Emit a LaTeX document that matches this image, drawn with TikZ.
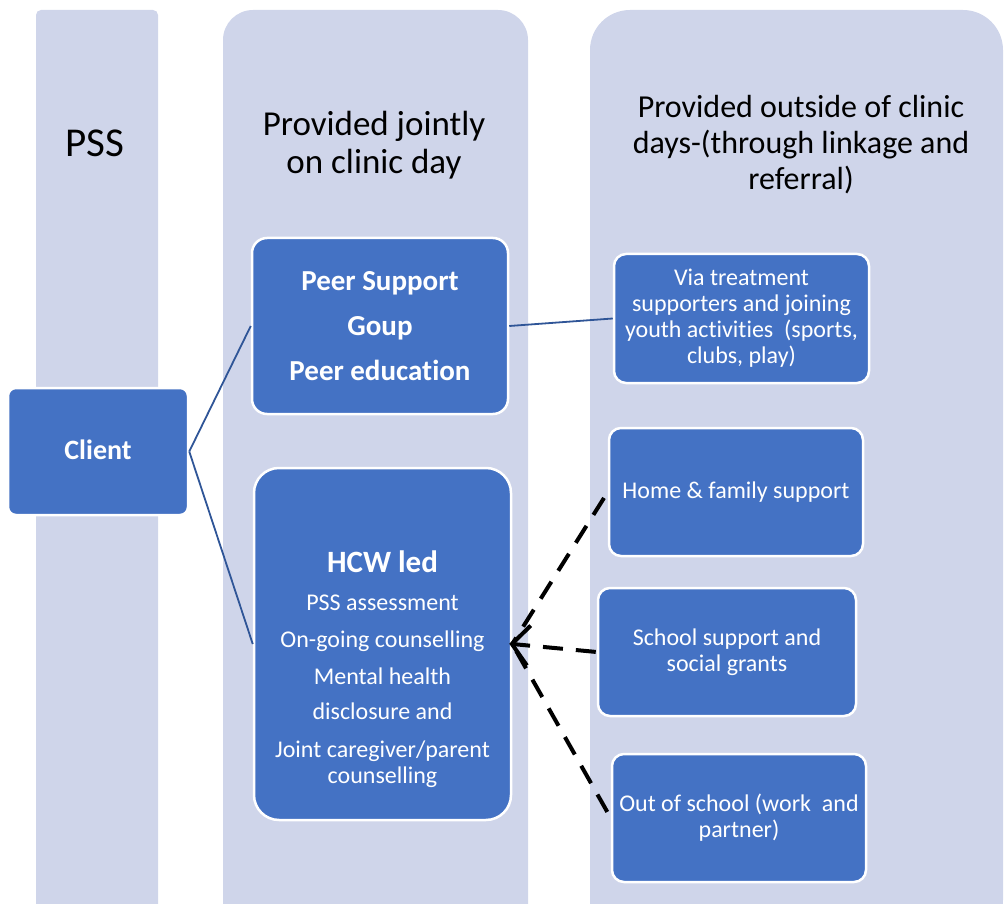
\documentclass[tikz,border=0pt]{standalone}
\usepackage{fontspec}
\setmainfont{Carlito}[Ligatures={NoCommon}]
\usetikzlibrary{arrows.meta}
\definecolor{colbg}{HTML}{CFD5EA}
\definecolor{boxblue}{HTML}{4472C4}
\definecolor{linkblue}{HTML}{2F5597}
\begin{document}
\begin{tikzpicture}[x=1pt,y=-1pt,
  colband/.style={fill=colbg},
  bluebox/.style={draw=white, line width=2.5pt, fill=boxblue, text=white, align=center, inner sep=0pt},
  smalltext/.style={font=\fontsize{24}{26}\selectfont},
  heading/.style={align=center, text=black, inner sep=0pt},
  link/.style={draw=linkblue, line width=1.8pt},
  dashline/.style={draw=black, line width=4pt, dash pattern=on 20pt off 13pt},
  barb/.style={-{Straight Barb[length=17pt,width=40pt,line width=4pt]}}
]
\useasboundingbox (0,0) rectangle (1005,904);
\clip (0,0) rectangle (1005,904);
% columns
\fill[colband, rounded corners=5] (36,10) rectangle (158,940);
\fill[colband, rounded corners=30] (223,10) rectangle (528,940);
\fill[colband, rounded corners=40] (590,10) rectangle (1003,940);
% headings
\node[heading, font=\fontsize{41}{44}\selectfont] (pss) at (95,143) {PSS};
\node[heading, font=\fontsize{35}{38}\selectfont] (jointly) at (374,145) {Provided jointly\\on clinic day};
\node[heading, font=\fontsize{32}{36}\selectfont] (outside) at (801,145) {Provided outside of clinic\\days-(through linkage and\\referral)};
% boxes
\node[bluebox, rounded corners=8, minimum width=180, minimum height=127, font=\bfseries\fontsize{28}{30}\selectfont] (client) at (98,451.5) {\raisebox{3pt}{Client}};
\node[bluebox, rounded corners=15, minimum width=256, minimum height=176, font=\bfseries\fontsize{29}{30}\selectfont] (peer) at (380,326) {Peer Support\\[15pt]Goup\\[15pt]Peer education};
\node[bluebox, rounded corners=25, minimum width=257, minimum height=352] (hcw) at (382.5,644) {};
\node[align=center, text=white, inner sep=0pt, smalltext] (hcwtext) at (382.5,669) {{\bfseries\fontsize{31}{34}\selectfont HCW led}\\[12pt]PSS assessment\\[11pt]On-going counselling\\[11pt]Mental health\\[9pt]disclosure and\\[12pt]Joint caregiver/parent\\counselling};
\node[bluebox, rounded corners=12, minimum width=255, minimum height=129, smalltext] (via) at (741.5,318.5) {Via treatment\\supporters and joining\\youth activities~~(sports,\\clubs, play)};
\node[bluebox, rounded corners=12, minimum width=254, minimum height=128, smalltext] (home) at (736,492) {\raisebox{3pt}{Home \& family support}};
\node[bluebox, rounded corners=12, minimum width=258, minimum height=128, smalltext] (school) at (727,652) {School support and\\social grants};
\node[bluebox, rounded corners=12, minimum width=254, minimum height=128, smalltext] (out) at (739,818) {Out of school (work~~and\\partner)};
% connectors
\draw[link] (client.east) -- (peer.west);
\draw[link] (client.east) -- (hcw.west);
\draw[link] (peer.east) -- (via.west);
\draw[dashline, shorten <=7pt] (home.west) -- (hcw.east);
\draw[dashline, shorten <=7pt] (out.west) -- (hcw.east);
\draw[dashline, barb, shorten <=1pt, shorten >=-3pt] (school.west) -- (hcw.east);
\end{tikzpicture}
\end{document}
